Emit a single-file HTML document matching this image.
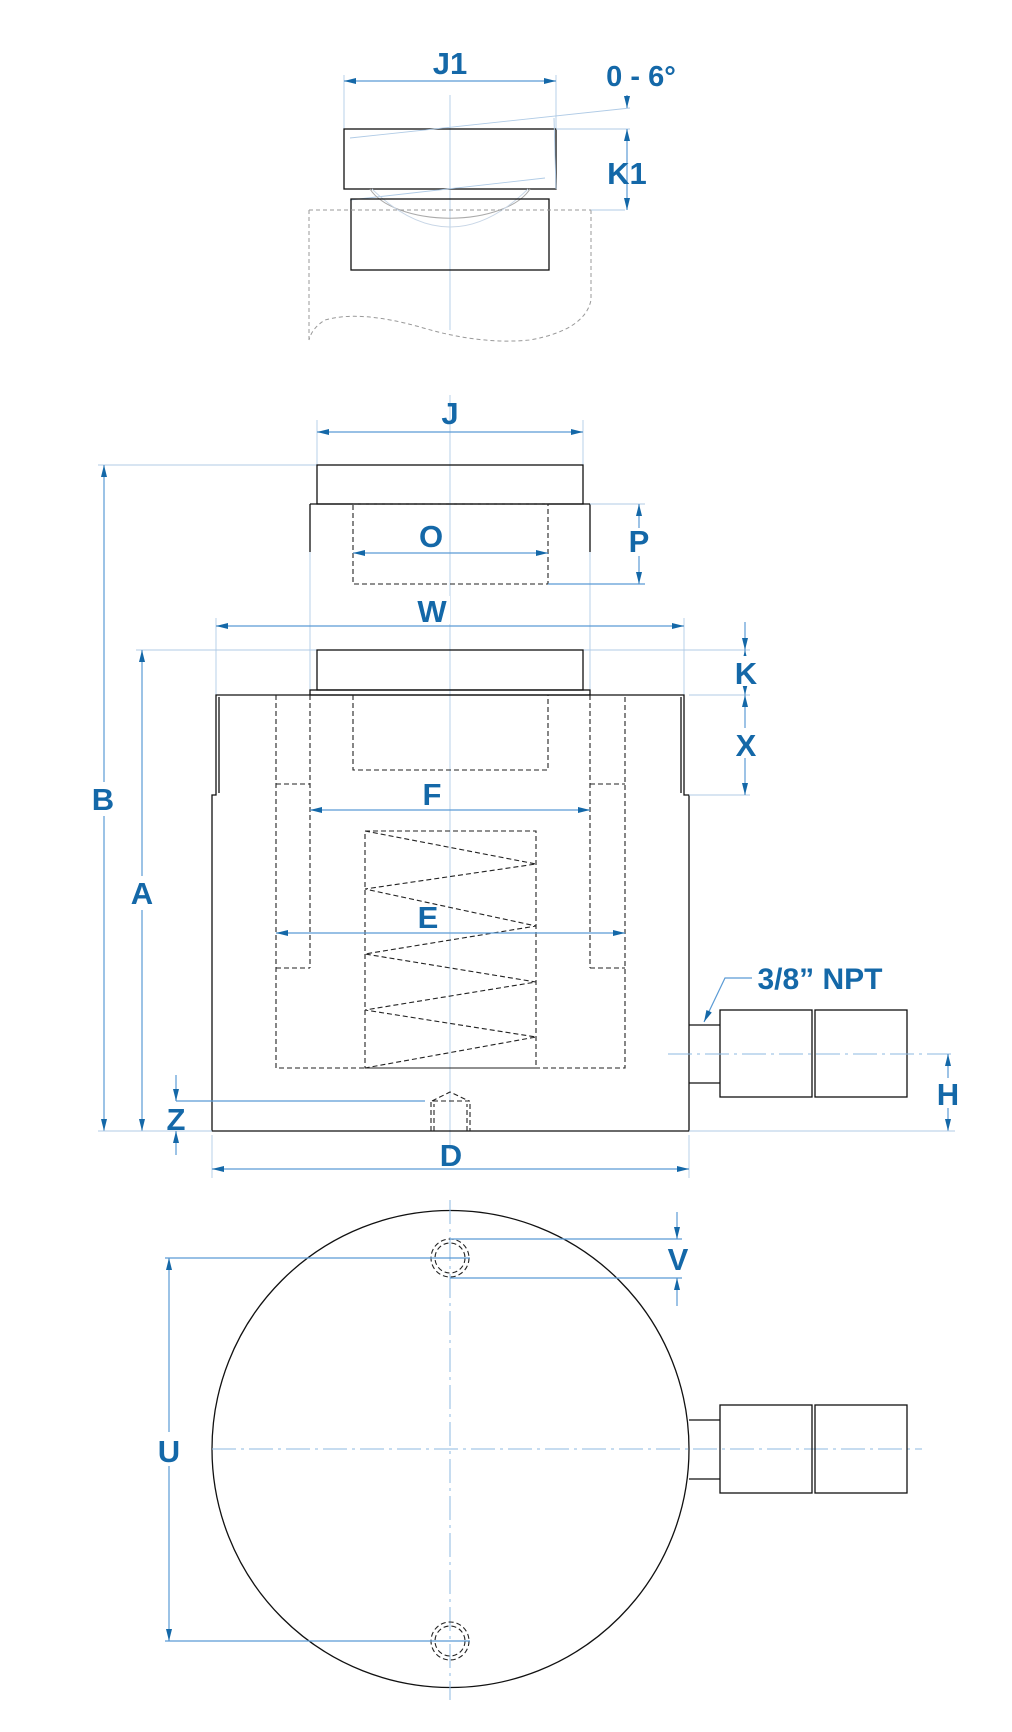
<!DOCTYPE html>
<html><head><meta charset="utf-8"><style>
html,body{margin:0;padding:0;background:#fff;}
svg{display:block;}
text{font-family:"Liberation Sans",sans-serif;font-weight:bold;fill:#1468a8;font-size:31px;text-anchor:middle;}
.k{stroke:#111;stroke-width:1.3;fill:none;}
.d{stroke:#222;stroke-width:1.1;fill:none;stroke-dasharray:5,3;}
.g{stroke:#999;stroke-width:1;fill:none;stroke-dasharray:4,3;}
.b{stroke:#5b9bd5;stroke-width:1.2;fill:none;}
.c{stroke:#8db8e2;stroke-width:1;fill:none;stroke-dasharray:24,5,3,5;}
.t{stroke:#b0cbe6;stroke-width:0.9;fill:none;}
</style></head><body>
<svg width="1012" height="1732" viewBox="0 0 1012 1732" xmlns="http://www.w3.org/2000/svg">
<defs>
<marker id="a" viewBox="0 0 12 6" refX="12" refY="3" markerWidth="12" markerHeight="6" orient="auto-start-reverse" markerUnits="userSpaceOnUse"><path d="M0,0L12,3L0,6z" fill="#1468a8"/></marker>
</defs>

<!-- ===== Top view (K1) ===== -->
<line class="t" x1="450" y1="95" x2="450" y2="330"/>
<line class="t" x1="344" y1="75" x2="344" y2="129"/>
<line class="t" x1="556" y1="75" x2="556" y2="129"/>
<line class="b" x1="344" y1="81" x2="556" y2="81" marker-start="url(#a)" marker-end="url(#a)"/>
<text x="450" y="74">J1</text>
<text x="641" y="86" style="font-size:29px">0 - 6°</text>
<rect class="k" x="344" y="129" width="212" height="60"/>
<line class="t" x1="350" y1="138" x2="630" y2="108"/>
<line class="t" x1="350" y1="200" x2="545" y2="178"/>
<line class="t" x1="556" y1="129" x2="630" y2="129"/>
<line class="t" x1="554" y1="118" x2="556" y2="189"/>
<line class="b" x1="627" y1="95" x2="627" y2="108" marker-end="url(#a)"/>
<line class="b" x1="627" y1="129" x2="627" y2="210" marker-start="url(#a)" marker-end="url(#a)"/>
<text x="627" y="184">K1</text>
<path d="M370,189 A84,42 0 0 0 530,189" stroke="#aaa" stroke-width="1" fill="none"/>
<path d="M372,189 Q450,265 528,189" stroke="#c8d6e6" stroke-width="0.9" fill="none"/>
<rect class="k" x="351" y="199" width="198" height="71"/>
<path class="g" d="M309,210 H591 M309,210 V340 M591,210 V300 Q585,330 530,340 Q480,345 420,327 Q360,310 325,320 Q312,328 309,340"/>
<line class="t" x1="591" y1="210" x2="625" y2="210"/>

<!-- ===== Main side view ===== -->
<line class="t" x1="450" y1="395" x2="450" y2="1150"/>
<line class="t" x1="317" y1="420" x2="317" y2="465"/>
<line class="t" x1="583" y1="420" x2="583" y2="465"/>
<line class="b" x1="317" y1="432" x2="583" y2="432" marker-start="url(#a)" marker-end="url(#a)"/>
<text x="450" y="424">J</text>
<!-- B extension -->
<line class="t" x1="98" y1="465" x2="317" y2="465"/>
<line class="b" x1="104" y1="465" x2="104" y2="1131" marker-start="url(#a)" marker-end="url(#a)"/>
<rect x="90" y="782" width="28" height="34" fill="#fff"/>
<text x="103" y="810">B</text>
<!-- upper cap & ram (extended) -->
<rect class="k" x="317" y="465" width="266" height="39"/>
<path class="k" d="M310,504 H590 M310,504 V552 M590,504 V552"/>
<line class="t" x1="310" y1="552" x2="310" y2="690"/>
<line class="t" x1="590" y1="552" x2="590" y2="690"/>
<rect class="d" x="353" y="504" width="195" height="80"/>
<line class="b" x1="353" y1="553" x2="548" y2="553" marker-start="url(#a)" marker-end="url(#a)"/>
<text x="431" y="547">O</text>
<line class="b" x1="548" y1="584" x2="645" y2="584"/>
<line class="t" x1="590" y1="504" x2="645" y2="504"/>
<line class="b" x1="639" y1="504" x2="639" y2="584" marker-start="url(#a)" marker-end="url(#a)"/>
<rect x="628" y="528" width="22" height="28" fill="#fff"/>
<text x="639" y="552">P</text>
<!-- W -->
<line class="t" x1="216" y1="618" x2="216" y2="695"/>
<line class="t" x1="684" y1="618" x2="684" y2="695"/>
<line class="b" x1="216" y1="626" x2="684" y2="626" marker-start="url(#a)" marker-end="url(#a)"/>
<rect x="420" y="596" width="30" height="28" fill="#fff"/>
<text x="432" y="622">W</text>
<!-- K level -->
<line class="t" x1="136" y1="650" x2="750" y2="650"/>
<line class="b" x1="142" y1="650" x2="142" y2="1131" marker-start="url(#a)" marker-end="url(#a)"/>
<rect x="128" y="876" width="28" height="34" fill="#fff"/>
<text x="142" y="904">A</text>
<rect class="k" x="317" y="650" width="266" height="40"/>
<rect class="k" x="310" y="690" width="280" height="5"/>
<!-- body -->
<path class="k" d="M216,695 H684 V795 H689 V1131 H212 V795 H216 Z"/>
<path class="k" d="M219,697 V793 M681,697 V793" stroke-width="0.8"/>
<!-- dashed internals -->
<path class="d" d="M276,695 V1068 H625 V695"/>
<path class="d" d="M310,695 V968 M590,695 V968 M276,784 H310 M590,784 H625 M276,968 H310 M590,968 H625"/>
<path class="d" d="M353,695 V770 H548 V695"/>
<rect class="d" x="365" y="831" width="171" height="237"/>
<polyline class="d" points="365,831 536,864 365,889 536,926 365,954 536,982 365,1010 536,1037 365,1068"/>
<!-- F, E -->
<line class="b" x1="310" y1="810" x2="590" y2="810" marker-start="url(#a)" marker-end="url(#a)"/>
<text x="432" y="805">F</text>
<line class="b" x1="276" y1="933" x2="625" y2="933" marker-start="url(#a)" marker-end="url(#a)"/>
<text x="428" y="928">E</text>
<!-- K / X -->
<line class="t" x1="689" y1="695" x2="750" y2="695"/>
<line class="t" x1="689" y1="795" x2="750" y2="795"/>
<line class="b" x1="745" y1="622" x2="745" y2="650" marker-end="url(#a)"/>
<line class="b" x1="745" y1="650" x2="745" y2="695" marker-start="url(#a)" marker-end="url(#a)"/>
<line class="b" x1="745" y1="695" x2="745" y2="795" marker-start="url(#a)" marker-end="url(#a)"/>
<rect x="732" y="656" width="26" height="30" fill="#fff"/>
<text x="746" y="684">K</text>
<rect x="732" y="728" width="26" height="30" fill="#fff"/>
<text x="746" y="756">X</text>
<!-- port -->
<path class="k" d="M689,1025 H720 M689,1083 H720"/>
<rect class="k" x="720" y="1010" width="92" height="87"/>
<rect class="k" x="815" y="1010" width="92" height="87"/>
<line class="c" x1="668" y1="1054" x2="952" y2="1054"/>
<text x="820" y="989" style="font-size:30px">3/8” NPT</text>
<path class="b" d="M752,978 H725 L704,1022" marker-end="url(#a)"/>
<!-- H -->
<line class="b" x1="948" y1="1054" x2="948" y2="1131" marker-start="url(#a)" marker-end="url(#a)"/>
<rect x="936" y="1078" width="24" height="30" fill="#fff"/>
<text x="948" y="1105">H</text>
<line class="t" x1="689" y1="1131" x2="955" y2="1131"/>
<line class="t" x1="98" y1="1131" x2="212" y2="1131"/>
<!-- Z & hole -->
<line class="b" x1="176" y1="1101" x2="425" y2="1101"/>
<line class="b" x1="176" y1="1075" x2="176" y2="1101" marker-end="url(#a)"/>
<line class="b" x1="176" y1="1155" x2="176" y2="1131" marker-end="url(#a)"/>
<text x="176" y="1130">Z</text>
<path class="d" d="M431,1131 V1101 H470 V1131 M434,1131 V1104 M467,1131 V1104 M432,1101 L450,1092 L469,1101"/>
<!-- D -->
<line class="t" x1="212" y1="1135" x2="212" y2="1178"/>
<line class="t" x1="689" y1="1135" x2="689" y2="1178"/>
<line class="b" x1="212" y1="1169" x2="689" y2="1169" marker-start="url(#a)" marker-end="url(#a)"/>
<text x="451" y="1166">D</text>

<!-- ===== Bottom plan view ===== -->
<circle class="k" cx="450.5" cy="1449" r="238.5"/>
<line class="c" x1="450" y1="1200" x2="450" y2="1700"/>
<line class="c" x1="212" y1="1449" x2="922" y2="1449"/>
<circle class="d" cx="450" cy="1258" r="19"/>
<circle class="d" cx="450" cy="1258" r="15"/>
<circle class="d" cx="450" cy="1641" r="19"/>
<circle class="d" cx="450" cy="1641" r="15"/>
<line class="b" x1="165" y1="1258" x2="470" y2="1258"/>
<line class="b" x1="165" y1="1641" x2="470" y2="1641"/>
<line class="b" x1="169" y1="1258" x2="169" y2="1641" marker-start="url(#a)" marker-end="url(#a)"/>
<rect x="156" y="1432" width="28" height="34" fill="#fff"/>
<text x="169" y="1462">U</text>
<line class="b" x1="450" y1="1239" x2="682" y2="1239"/>
<line class="b" x1="450" y1="1278" x2="682" y2="1278"/>
<line class="b" x1="677" y1="1212" x2="677" y2="1239" marker-end="url(#a)"/>
<line class="b" x1="677" y1="1306" x2="677" y2="1278" marker-end="url(#a)"/>
<text x="678" y="1270">V</text>
<path class="k" d="M689,1420 H720 M689,1479 H720"/>
<rect class="k" x="720" y="1405" width="92" height="88"/>
<rect class="k" x="815" y="1405" width="92" height="88"/>
</svg>
</body></html>
